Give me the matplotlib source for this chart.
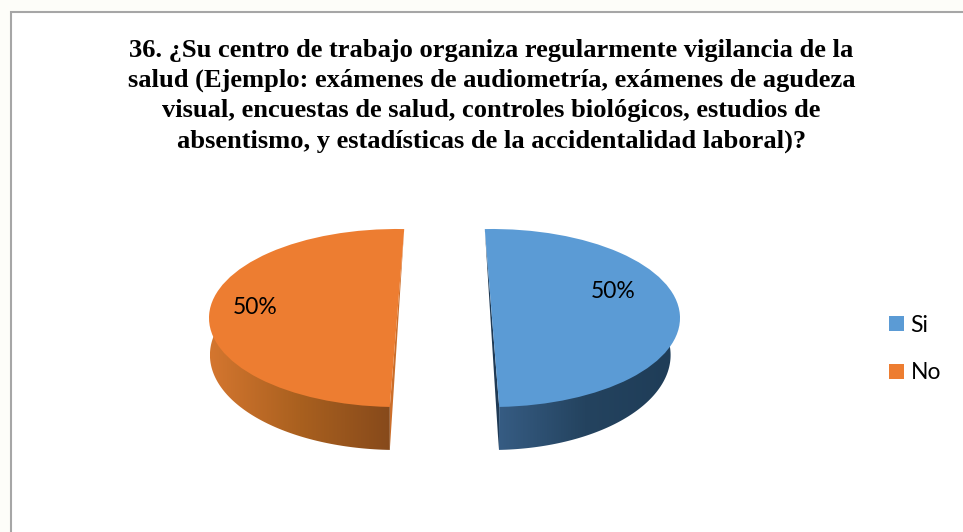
import numpy as np
import matplotlib
matplotlib.use("Agg")
import matplotlib.pyplot as plt
from matplotlib.colors import LinearSegmentedColormap
from matplotlib.patches import Patch, Polygon, Rectangle

W, H = 963, 532

labels = ["Si", "No"]
values = [50, 50]
pct_labels = ["50%", "50%"]
title_lines = [
    "36. ¿Su centro de trabajo organiza regularmente vigilancia de la",
    "salud (Ejemplo: exámenes de audiometría, exámenes de agudeza",
    "visual, encuestas de salud, controles biológicos, estudios de",
    "absentismo, y estadísticas de la accidentalidad laboral)?",
]
colors = ["#5B9BD5", "#ED7D31"]
wall_colors = [
    ["#365C83", "#24435F", "#1F3D58"],
    ["#D4762F", "#A9601F", "#874A1B"],
]
cut_colors = ["#1F3A55", "#CC6E2A"]

RX, RY = 188, 89
CX, CY = 444.5, 318
EXPLODE = 0.2527
TILT = 2.2  # cut edges lean outwards because of the perspective
# lower rim of the 3D effect, relative to the top ellipse
RIM_X = [0.95, 0.995]
RIM_Y, RIM_DROP = 1.067, 0.416


def px_axes(fig, left, top, width, height):
    return fig.add_axes([left / W, 1 - (top + height) / H, width / W, height / H])


fig = plt.figure(figsize=(W / 100, H / 100), dpi=100, facecolor="#FDFDF9")

# page frame and title in pixel coords
bg = fig.add_axes([0, 0, 1, 1])
bg.set_xlim(0, W)
bg.set_ylim(H, 0)
bg.axis("off")
bg.add_patch(Rectangle((10.5, 11.5), W + 20, H + 20, fc="white", ec="#A6A6A6", lw=1.5))
for line, y in zip(title_lines, [57, 87, 117.5, 148]):
    bg.text(491.5, y, line, ha="center", va="baseline", family="Liberation Serif",
            weight="bold", fontsize=19.05, color="black")

# pie is squashed by using different x and y scales
xr, yr_top, yr_bot = 1.3, 1.2, 1.6
ax = px_axes(fig, CX - xr * RX, CY - yr_top * RY, 2 * xr * RX, (yr_top + yr_bot) * RY)
wedges, _ = ax.pie(values, colors=colors, startangle=90, counterclock=False,
                   radius=1, wedgeprops={"lw": 0, "zorder": 5})

# each half leans its own way, so they are set up one by one
si, no = wedges
si.set_center((EXPLODE, 0))
si.set_theta1(si.theta1 + TILT)
si.set_theta2(si.theta2 + TILT)
no.set_center((-EXPLODE, 0))
no.set_theta1(no.theta1 - TILT)
no.set_theta2(no.theta2 - TILT)

# angles on the rim: from the bottom cut to where the wall goes behind the top face
fronts = [(si.theta1, si.theta2, 50.0), (no.theta2, no.theta1, no.theta2 - 137.8)]
for wedge, wall, cut, rim_w, (a_cut, a_back, a_end) in zip(wedges, wall_colors, cut_colors, RIM_X, fronts):
    cx, cy = wedge.center
    angs = np.radians(np.linspace(a_cut, a_end, 120))
    rim_x = cx + rim_w * np.cos(angs)
    rim_y = cy - RIM_DROP + RIM_Y * np.sin(angs)

    # cut face sliver
    top_pt = (cx + np.cos(np.radians(a_back)), cy + np.sin(np.radians(a_back)))
    low_pt = (cx + np.cos(angs[0]), cy + np.sin(angs[0]))
    ax.add_patch(Polygon([top_pt, low_pt, (rim_x[0], rim_y[0])], fc=cut, ec="none", zorder=2))

    # outer wall with a horizontal gradient
    outline = np.column_stack([np.r_[low_pt[0], rim_x, cx], np.r_[low_pt[1], rim_y, cy]])
    poly = Polygon(outline, fc="none", ec="none", transform=ax.transData)
    ax.add_patch(poly)
    shade = np.linspace(0, 1, 256).reshape(1, -1)
    cmap = LinearSegmentedColormap.from_list("wall", wall)
    im = ax.imshow(shade, cmap=cmap, aspect="auto", zorder=3,
                   extent=(rim_x.min(), rim_x.max(), rim_y.min(), cy))
    im.set_clip_path(poly)

ax.set_aspect("auto")
ax.set_xlim(-xr, xr)
ax.set_ylim(-yr_bot, yr_top)

# data labels
bg.set_zorder(0)
ax.set_zorder(1)
lab = fig.add_axes([0, 0, 1, 1], zorder=2)
lab.set_xlim(0, W)
lab.set_ylim(H, 0)
lab.axis("off")
for txt, (x, y) in zip(pct_labels, [(613, 291.5), (255, 307.5)]):
    lab.text(x, y, txt, ha="center", va="center", family="Lato", fontsize=16.5, color="black")

handles = [Patch(fc=c, ec="none", label=l) for c, l in zip(colors, labels)]
lab.legend(handles=handles, loc="center left", bbox_to_anchor=(868 / W, 1 - 349 / H),
           bbox_transform=fig.transFigure, frameon=False, prop={"family": "Lato", "size": 16.5},
           handlelength=0.66, handleheight=0.66, handletextpad=0.3, labelspacing=1.17)

fig.savefig("out.png", dpi=100, facecolor=fig.get_facecolor())
